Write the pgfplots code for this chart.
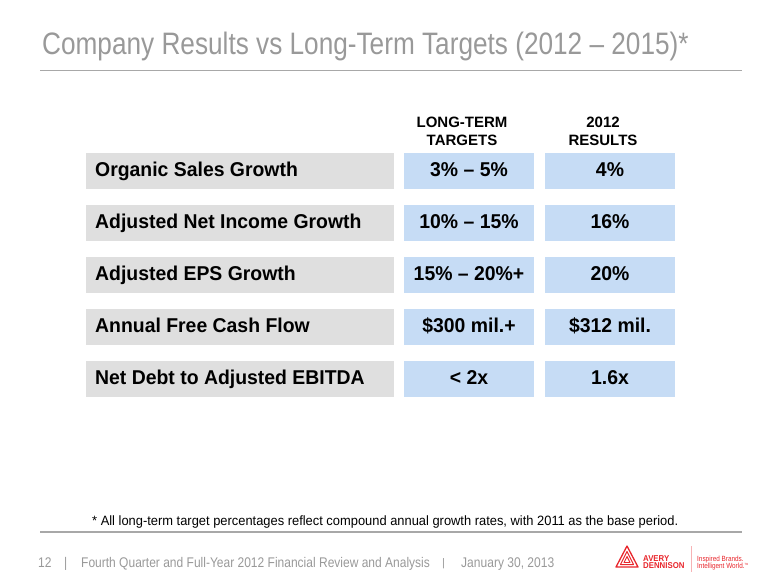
\documentclass[border=0pt]{standalone}
\usepackage{pgfplots}
\pgfplotsset{compat=1.18}
\usepackage{fontspec}
\setmainfont{Liberation Sans}
\definecolor{titlegray}{HTML}{999999}
\definecolor{rulegray}{HTML}{A8A8A8}
\definecolor{boxgray}{HTML}{DFDFDF}
\definecolor{boxblue}{HTML}{C6DCF5}
\definecolor{avred}{HTML}{E8262C}
\newcommand{\fs}[1]{\fontsize{#1bp}{#1bp}\selectfont}
\begin{document}
\begin{tikzpicture}
\begin{axis}[scale only axis, width=780bp, height=585bp,
  xmin=0, xmax=780, ymin=0, ymax=585, y dir=reverse,
  axis lines=none, ticks=none, clip=false]
\path (axis cs:0,0) rectangle (axis cs:780,585);
% title
\node[anchor=base west, inner sep=0pt, text=titlegray] at (axis cs:42,55)
  {\fs{31}\scalebox{0.845}[1]{Company Results vs Long-Term Targets (2012 – 2015)*}};
\draw[rulegray, line width=1.2bp] (axis cs:40,70.5) -- (axis cs:742,70.5);
% headers
\tikzset{hd/.style={anchor=base, inner sep=0pt, font=\bfseries\fs{15}}}
\node[hd] at (axis cs:462,127.5) {LONG-TERM};
\node[hd] at (axis cs:462,145) {TARGETS};
\node[hd] at (axis cs:603,127.5) {2012};
\node[hd] at (axis cs:603,145) {RESULTS};
% rows
\fill[boxgray] (axis cs:86,152.5) rectangle (axis cs:394,188.5);
\fill[boxblue] (axis cs:404,152.5) rectangle (axis cs:534,188.5);
\fill[boxblue] (axis cs:545,152.5) rectangle (axis cs:675,188.5);
\fill[boxgray] (axis cs:86,204.5) rectangle (axis cs:394,240.5);
\fill[boxblue] (axis cs:404,204.5) rectangle (axis cs:534,240.5);
\fill[boxblue] (axis cs:545,204.5) rectangle (axis cs:675,240.5);
\fill[boxgray] (axis cs:86,256.5) rectangle (axis cs:394,292.5);
\fill[boxblue] (axis cs:404,256.5) rectangle (axis cs:534,292.5);
\fill[boxblue] (axis cs:545,256.5) rectangle (axis cs:675,292.5);
\fill[boxgray] (axis cs:86,308.5) rectangle (axis cs:394,344.5);
\fill[boxblue] (axis cs:404,308.5) rectangle (axis cs:534,344.5);
\fill[boxblue] (axis cs:545,308.5) rectangle (axis cs:675,344.5);
\fill[boxgray] (axis cs:86,360.5) rectangle (axis cs:394,396.5);
\fill[boxblue] (axis cs:404,360.5) rectangle (axis cs:534,396.5);
\fill[boxblue] (axis cs:545,360.5) rectangle (axis cs:675,396.5);
\tikzset{lab/.style={anchor=base west, inner sep=0pt, font=\bfseries\fs{20}},
         val/.style={anchor=base, inner sep=0pt, font=\bfseries\fs{20}}}
\newcommand{\sq}[1]{\scalebox{0.97}[1]{#1}}
\node[lab] at (axis cs:95,176) {\sq{Organic Sales Growth}};
\node[val] at (axis cs:469,176) {\sq{3\% – 5\%}};
\node[val] at (axis cs:610,176) {\sq{4\%}};
\node[lab] at (axis cs:95,228) {\sq{Adjusted Net Income Growth}};
\node[val] at (axis cs:469,228) {\sq{10\% – 15\%}};
\node[val] at (axis cs:610,228) {\sq{16\%}};
\node[lab] at (axis cs:95,280) {\sq{Adjusted EPS Growth}};
\node[val] at (axis cs:469,280) {\sq{15\% – 20\%+}};
\node[val] at (axis cs:610,280) {\sq{20\%}};
\node[lab] at (axis cs:95,332) {\sq{Annual Free Cash Flow}};
\node[val] at (axis cs:469,332) {\sq{\$300 mil.+}};
\node[val] at (axis cs:610,332) {\sq{\$312 mil.}};
\node[lab] at (axis cs:95,384) {\sq{Net Debt to Adjusted EBITDA}};
\node[val] at (axis cs:469,384) {\sq{< 2x}};
\node[val] at (axis cs:610,384) {\sq{1.6x}};
% footnote
\node[anchor=base west, inner sep=0pt, font=\fs{13.5}] at (axis cs:92,525)
  {\scalebox{0.955}[1]{* All long-term target percentages reflect compound annual growth rates, with 2011 as the base period.}};
\draw[rulegray, line width=1.2bp] (axis cs:40,532) -- (axis cs:742,532);
% footer
\tikzset{ft/.style={anchor=base west, inner sep=0pt, text=titlegray, font=\fs{14}}}
\node[ft] at (axis cs:38,567) {\scalebox{0.86}[1]{12}};
\node[ft] at (axis cs:64,567) {\scalebox{0.86}[1]{|}};
\node[ft] at (axis cs:81,567) {\scalebox{0.858}[1]{Fourth Quarter and Full-Year 2012 Financial Review and Analysis}};
\node[ft, font=\fs{11}] at (axis cs:442,566) {|};
\node[ft] at (axis cs:461,567) {\scalebox{0.86}[1]{January 30, 2013}};
% logo
\draw[avred, line width=1.3bp, line join=round] (axis cs:616,567) -- (axis cs:627,546) -- (axis cs:638,567) -- cycle;
\draw[avred, line width=1bp, line join=round] (axis cs:620.5,564.5) -- (axis cs:627,551.5) -- (axis cs:633.5,564.5) -- cycle;
\draw[avred, line width=0.9bp, line join=round] (axis cs:624,562.5) -- (axis cs:627,556.5) -- (axis cs:630,562.5) -- cycle;
\node[anchor=base west, inner sep=0pt, text=avred, font=\bfseries\fs{8.5}] at (axis cs:643,561) {\scalebox{0.92}[1]{AVERY}};
\node[anchor=base west, inner sep=0pt, text=avred, font=\bfseries\fs{8.5}] at (axis cs:643,568) {\scalebox{0.92}[1]{DENNISON}};
\draw[avred!35, line width=0.6bp] (axis cs:691,546) -- (axis cs:691,572);
\node[anchor=base west, inner sep=0pt, text=avred, font=\fs{7.5}] at (axis cs:697,561) {\scalebox{0.85}[1]{Inspired Brands.}};
\node[anchor=base west, inner sep=0pt, text=avred, font=\fs{7.5}] at (axis cs:697,568) {\scalebox{0.85}[1]{Intelligent World.\raisebox{2.5bp}{\fs{3}TM}}};
\end{axis}
\end{tikzpicture}
\end{document}
